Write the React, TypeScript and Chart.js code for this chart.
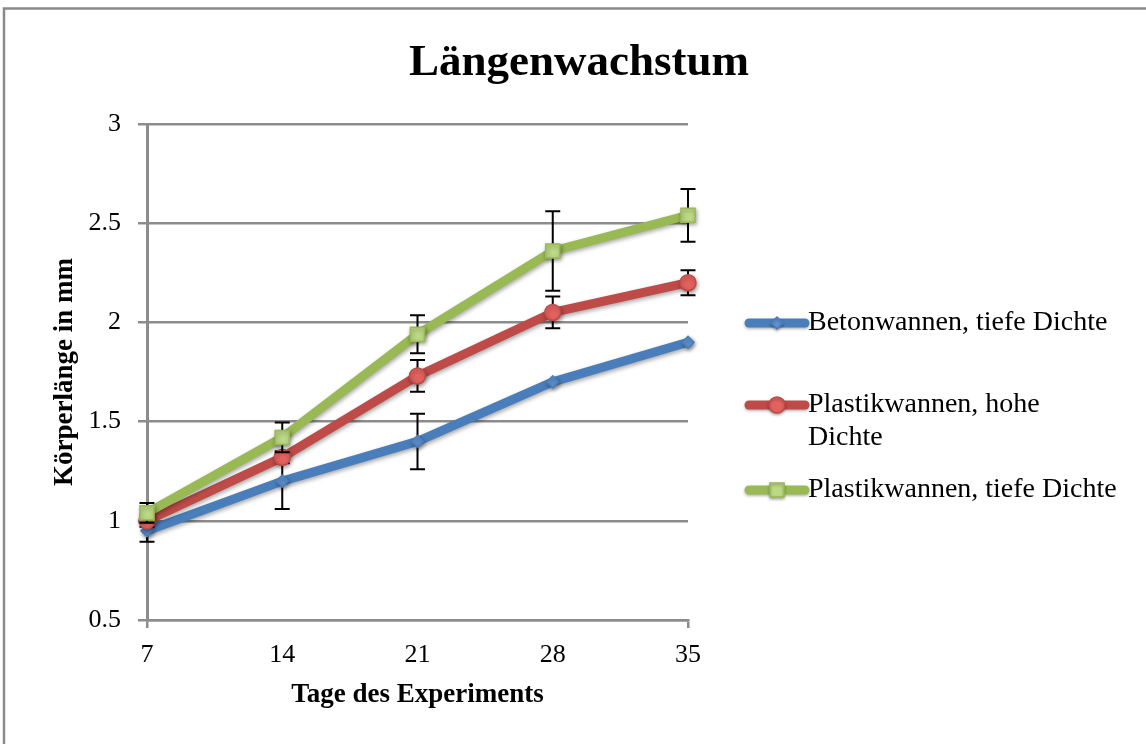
import { useEffect, useRef } from "react";
import { Chart, registerables } from "chart.js";
import { drawPoint } from "chart.js/helpers";

Chart.register(...registerables);

// ---------- data ----------
const days = [7, 14, 21, 28, 35];
const betonTief = [0.95, 1.2, 1.4, 1.7, 1.9];
const plastikHoch = [1.0, 1.32, 1.73, 2.05, 2.2];
const plastikTief = [1.04, 1.42, 1.94, 2.36, 2.54];
const errBetonTief = [0.055, 0.14, 0.14, 0, 0];
const errPlastikHoch = [0.03, 0.03, 0.08, 0.08, 0.063];
const errPlastikTief = [0.05, 0.075, 0.096, 0.2, 0.133];
const seriesNames = [
  "Betonwannen, tiefe Dichte",
  "Plastikwannen, hohe Dichte",
  "Plastikwannen, tiefe Dichte",
];
const legendLines = [
  ["Betonwannen, tiefe Dichte"],
  ["Plastikwannen, hohe", "Dichte"],
  ["Plastikwannen, tiefe Dichte"],
];
const titleText = "Längenwachstum";
const xTitle = "Tage des Experiments";
const yTitle = "Körperlänge in mm";

const SERIF = "'Liberation Serif', 'Times New Roman', serif";
const GRID = "#8c8c8c";

const seriesValues = [betonTief, plastikHoch, plastikTief];
const seriesErrors = [errBetonTief, errPlastikHoch, errPlastikTief];
const lineColors = ["#4a7ebb", "#be4b48", "#98b954"];
const pointFills = ["#5f93d3", "#e2625e", "#bcd985"];
const pointStyles = ["rectRot", "circle", "rect"];
const pointRadii = [6, 8, 10];

const framePlugin = {
  id: "frame",
  beforeDraw(chart: any) {
    const ctx = chart.ctx;
    ctx.save();
    ctx.strokeStyle = "#8a8a8a";
    ctx.lineWidth = 2.5;
    ctx.beginPath();
    ctx.moveTo(4, chart.height + 10);
    ctx.lineTo(4, 8.5);
    ctx.lineTo(chart.width + 10, 8.5);
    ctx.stroke();
    ctx.restore();
  },
};

const errorBarPlugin = {
  id: "errorBars",
  beforeDatasetDraw(chart: any, args: any) {
    const ctx = chart.ctx;
    const i = args.index;
    const xs = chart.scales.x;
    const ys = chart.scales.y;
    ctx.save();
    ctx.strokeStyle = "#000";
    ctx.lineWidth = 2;
    const errs = seriesErrors[i];
    const vals = seriesValues[i];
    for (let j = 0; j < days.length; j++) {
      const e = errs[j];
      if (!e) continue;
      const x = xs.getPixelForValue(days[j]);
      const yt = ys.getPixelForValue(vals[j] + e);
      const yb = ys.getPixelForValue(vals[j] - e);
      ctx.beginPath();
      ctx.moveTo(x, yt);
      ctx.lineTo(x, yb);
      ctx.moveTo(x - 7.5, yt);
      ctx.lineTo(x + 7.5, yt);
      ctx.moveTo(x - 7.5, yb);
      ctx.lineTo(x + 7.5, yb);
      ctx.stroke();
    }
    ctx.shadowColor = "rgba(0,0,0,0.35)";
    ctx.shadowBlur = 4;
    ctx.shadowOffsetX = 1;
    ctx.shadowOffsetY = 2;
  },
  afterDatasetDraw(chart: any) {
    chart.ctx.restore();
  },
};

const legendPlugin = {
  id: "customLegend",
  afterDraw(chart: any) {
    const ctx = chart.ctx;
    const rows = [323, 405, 490];
    const x0 = 749;
    const x1 = 805;
    ctx.save();
    chart.data.datasets.forEach((ds: any, i: number) => {
      const y = rows[i];
      ctx.save();
      ctx.shadowColor = "rgba(0,0,0,0.3)";
      ctx.shadowBlur = 3;
      ctx.shadowOffsetY = 1.5;
      ctx.strokeStyle = ds.borderColor;
      ctx.lineWidth = 9;
      ctx.lineCap = "round";
      ctx.beginPath();
      ctx.moveTo(x0, y);
      ctx.lineTo(x1, y);
      ctx.stroke();
      ctx.fillStyle = ds.pointBackgroundColor;
      ctx.strokeStyle = ds.pointBorderColor;
      ctx.lineWidth = 1.5;
      drawPoint(ctx, { pointStyle: ds.pointStyle, radius: ds.pointRadius, rotation: 0, borderWidth: 1.5 }, (x0 + x1) / 2, y);
      ctx.restore();
      ctx.fillStyle = "#000";
      ctx.font = `28px ${SERIF}`;
      ctx.textBaseline = "middle";
      ctx.textAlign = "left";
      legendLines[i].forEach((line, k) => {
        ctx.fillText(line, 808, y + k * 33);
      });
    });
    ctx.restore();
  },
};

export default function App() {
  const ref = useRef<HTMLCanvasElement | null>(null);

  useEffect(() => {
    if (!ref.current) return;
    const datasets = seriesValues.map((vals, i) => ({
      label: seriesNames[i],
      data: days.map((d, j) => ({ x: d, y: vals[j] })),
      borderColor: lineColors[i],
      backgroundColor: lineColors[i],
      borderWidth: 9,
      borderCapStyle: "round" as const,
      borderJoinStyle: "round" as const,
      pointStyle: pointStyles[i],
      pointRadius: pointRadii[i],
      pointBackgroundColor: pointFills[i],
      pointBorderColor: lineColors[i],
      pointBorderWidth: 1.5,
      tension: 0,
      clip: false as any,
      order: 2 - i,
      yAxisID: "y",
    }));

    const chart = new Chart(ref.current, {
      type: "line",
      data: { datasets },
      plugins: [framePlugin, errorBarPlugin, legendPlugin],
      options: {
        responsive: false,
        animation: false,
        events: [],
        layout: { padding: { left: 12, right: 0, top: 0, bottom: 0 } },
        plugins: {
          legend: { display: false },
          tooltip: { enabled: false },
          title: {
            display: true,
            text: titleText,
            color: "#000",
            font: { family: SERIF, size: 45, weight: "bold" },
            padding: { top: 36, bottom: 34 },
          },
        },
        scales: {
          x: {
            type: "linear",
            min: 7,
            max: 35,
            afterBuildTicks: (s: any) => {
              s.ticks = days.map((v) => ({ value: v }));
            },
            afterFit: (s: any) => {
              s.height = 124;
            },
            ticks: {
              color: "#000",
              font: { family: SERIF, size: 26 },
              padding: 12,
              maxRotation: 0,
              autoSkip: false,
            },
            grid: {
              drawOnChartArea: false,
              drawTicks: true,
              tickLength: 8,
              lineWidth: 2.5,
              color: GRID,
              tickColor: (c: any) => (c.index === 0 || c.index === days.length - 1 ? GRID : "rgba(0,0,0,0)"),
            },
            border: { display: true, color: GRID, width: 2.5 },
            title: {
              display: true,
              text: xTitle,
              color: "#000",
              font: { family: SERIF, size: 27, weight: "bold" },
              padding: { top: 0, bottom: 33 },
            },
          },
          y: {
            type: "linear",
            position: "left",
            min: 0.5,
            max: 3,
            afterFit: (s: any) => {
              s.width = 135;
            },
            ticks: {
              stepSize: 0.5,
              color: "#000",
              font: { family: SERIF, size: 26 },
              padding: 17,
              callback: (v: any) => String(v),
            },
            grid: {
              drawOnChartArea: true,
              drawTicks: true,
              tickLength: 9,
              lineWidth: 2.5,
              color: GRID,
            },
            border: { display: true, color: GRID, width: 3 },
            title: {
              display: true,
              text: yTitle,
              color: "#000",
              font: { family: SERIF, size: 27, weight: "bold" },
              padding: { top: 37, bottom: 0 },
            },
          },
          legendSpace: {
            type: "linear",
            position: "right",
            display: true,
            afterFit: (s: any) => {
              s.width = 1146 - 688;
            },
            ticks: { display: false },
            grid: { display: false, drawTicks: false },
            border: { display: false },
          },
        },
      },
    });
    return () => chart.destroy();
  }, []);

  return (
    <div style={{ position: "absolute", left: 0, top: 0, width: 1146, height: 744 }}>
      <canvas ref={ref} width={1146} height={744} />
    </div>
  );
}
